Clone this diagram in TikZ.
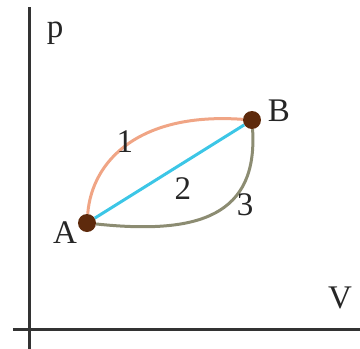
\documentclass[tikz,border=0pt]{standalone}
\usepackage{fontspec}
\setmainfont{Liberation Serif}
\usetikzlibrary{positioning}
\definecolor{salmonCurva}{HTML}{F0A585}
\definecolor{cianCurva}{HTML}{3CC6E6}
\definecolor{olivaCurva}{HTML}{8C8C72}
\definecolor{cafePunto}{HTML}{5E2A0C}
\tikzset{
  ejeBase/.style={line width=3pt, black!80},
  curvaBase/.style={line width=3pt},
  curvaUno/.style={curvaBase, salmonCurva},
  curvaDos/.style={curvaBase, cianCurva},
  curvaTres/.style={curvaBase, olivaCurva},
  puntoEstado/.style={circle, fill=cafePunto, minimum size=18pt, inner sep=0pt},
  etiqueta/.style={font=\fontsize{33}{36}\selectfont, text=black!85, inner sep=0pt},
}
\begin{document}
\begin{tikzpicture}[x=1pt, y=-1pt]
    \useasboundingbox (0,0) rectangle (360,349);
    % ejes
    \coordinate (pTop) at (30,7);
    \coordinate (pBot) at (30,349);
    \coordinate (vIzq) at (13,329);
    \coordinate (vDer) at (360,329);
    \draw[ejeBase] (pTop) -- (pBot);
    \draw[ejeBase] (vIzq) -- (vDer);
    \node[etiqueta] (labP) at (55,33) {p};
    \node[etiqueta] (labV) at (340,298) {V};
    % estados
    \node[puntoEstado] (A) at (87,223) {};
    \node[puntoEstado] (B) at (252,120) {};
    \draw[curvaUno] (A) .. controls (92,160) and (140,112) .. (B);
    \draw[curvaDos] (A) -- (B);
    \draw[curvaTres] (A) .. controls (200,235) and (258,215) .. (B);
    \node[etiqueta] (labA) at (65,233) {A};
    \node[etiqueta] (labB) at (279,111) {B};
    \node[etiqueta] (lab1) at (125,142) {1};
    \node[etiqueta] (lab2) at (183,189) {2};
    \node[etiqueta] (lab3) at (245,205) {3};
\end{tikzpicture}
\end{document}
